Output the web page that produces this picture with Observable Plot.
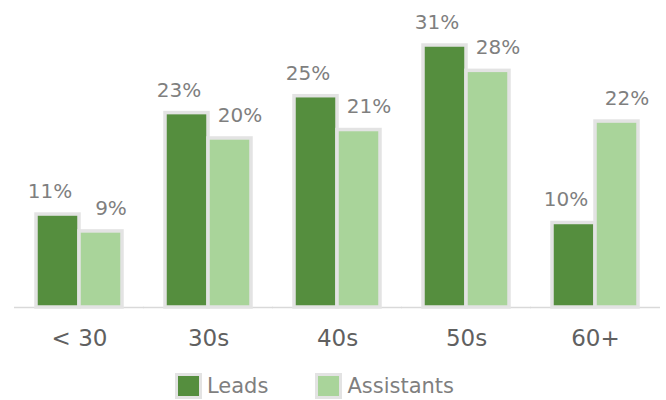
<!DOCTYPE html>
<html>
<head>
<meta charset="utf-8">
<script src="https://cdn.jsdelivr.net/npm/d3@7"></script>
<script src="https://cdn.jsdelivr.net/npm/@observablehq/plot@0.6"></script>
<style>
  html, body { margin: 0; padding: 0; background: #fff; }
  body { width: 666px; height: 400px; overflow: hidden; font-family: "DejaVu Sans", sans-serif; }
  #chart svg { display: block; }
  .legend { display: flex; align-items: center; height: 28px; padding-left: 175px; font-size: 21px; color: #7f7f7f; }
  .legend .item { display: flex; align-items: center; }
  .legend .sw { width: 21px; height: 20px; border: 3.5px solid #e3e3e3; box-sizing: content-box; margin-right: 5px; }
  .legend .item + .item { margin-left: 47px; }
</style>
</head>
<body>
<div id="chart"></div>
<script>
const ages = ["< 30", "30s", "40s", "50s", "60+"];
const seriesNames = ["Leads", "Assistants"];
const leads = [11, 23, 25, 31, 10];
const assistants = [9, 20, 21, 28, 22];
const seriesColors = ["#558e3e", "#a9d49a"];

const data = ages.flatMap((a, i) => [
  {age: a, series: "Leads", value: leads[i]},
  {age: a, series: "Assistants", value: assistants[i]}
]);

const chart = Plot.plot({
  width: 666,
  height: 372,
  marginTop: 45,
  marginBottom: 65,
  marginLeft: 35,
  marginRight: 27,
  style: {fontFamily: "DejaVu Sans", overflow: "visible", background: "#fff"},
  fx: {domain: ages, paddingInner: 0.336, paddingOuter: 0, axis: null, label: null},
  x: {domain: seriesNames, padding: 0, axis: null},
  y: {domain: [0, d3.max(data, d => d.value)], axis: null},
  color: {domain: seriesNames, range: seriesColors},
  marks: [
    Plot.ruleY([0], {stroke: "#d9d9d9", strokeWidth: 1.5, insetLeft: -22, insetRight: -22}),
    Plot.barY(data, {fx: "age", x: "series", y: "value", fill: "series", stroke: "#e3e3e3", strokeWidth: 3.5}),
    Plot.text(data.filter(d => d.series === "Leads"), {fx: "age", x: "series", y: "value", text: d => d.value + "%", dy: -23, dx: -8, fontSize: 20, fill: "#7f7f7f", lineAnchor: "middle"}),
    Plot.text(data.filter(d => d.series === "Assistants"), {fx: "age", x: "series", y: "value", text: d => d.value + "%", dy: -23, dx: 10, fontSize: 20, fill: "#7f7f7f", lineAnchor: "middle"}),
    Plot.text(ages, {fx: d => d, text: d => d, frameAnchor: "bottom", dy: 31, lineAnchor: "middle", fontSize: 23, fill: "#606060"})
  ]
});
document.getElementById("chart").appendChild(chart);

const legend = document.createElement("div");
legend.className = "legend";
seriesNames.forEach((name, i) => {
  const item = document.createElement("div");
  item.className = "item";
  const sw = document.createElement("span");
  sw.className = "sw";
  sw.style.background = seriesColors[i];
  const label = document.createElement("span");
  label.textContent = name;
  item.appendChild(sw);
  item.appendChild(label);
  legend.appendChild(item);
});
document.getElementById("chart").appendChild(legend);
</script>
</body>
</html>
